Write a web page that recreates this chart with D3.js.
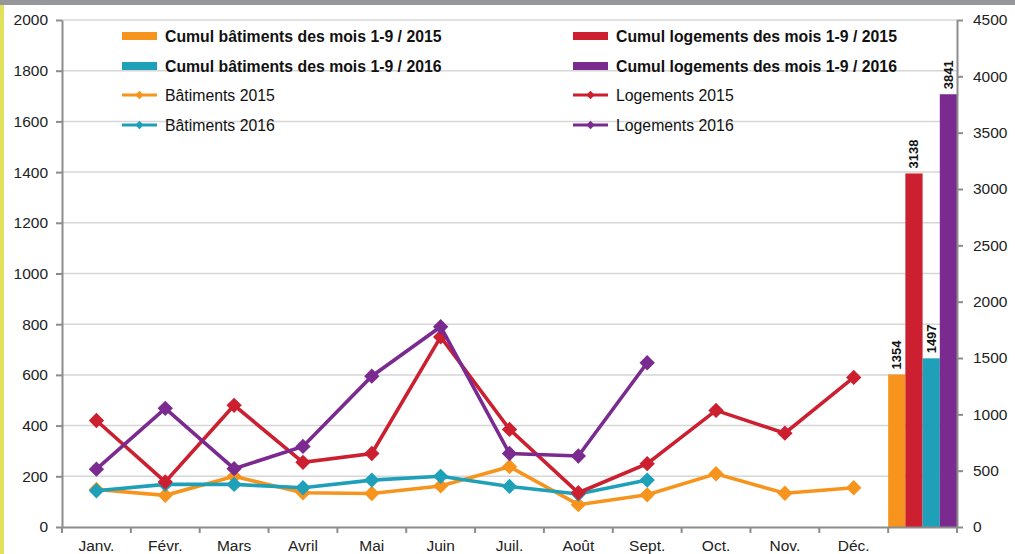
<!DOCTYPE html>
<html>
<head>
    <meta charset="utf-8" />
    <style>
    body { margin: 0; background: #fff; }
    svg { display: block; font-family: "Liberation Sans", Arial, sans-serif; }
    .grid line { stroke: #d6d6d6; stroke-width: 1.5px; }
    .axis path, .axis line { stroke: #8c8c8c; stroke-width: 2px; }
    .axis text { font-size: 15.5px; fill: #222; }
    </style>
</head>
<body>
<svg id="chart" width="1015" height="554"></svg>
<script src="https://d3js.org/d3.v7.min.js"></script>
<script>
    // months + one empty slot for the cumul bars
    var months = ["Janv.", "Févr.", "Mars", "Avril", "Mai", "Juin", "Juil.", "Août", "Sept.", "Oct.", "Nov.", "Déc.", ""];

    var batiments2015 = [148, 125, 200, 135, 132, 162, 238, 88, 127, 210, 133, 155];
    var batiments2016 = [143, 168, 168, 155, 185, 200, 160, 130, 185];
    var logements2015 = [420, 178, 480, 255, 290, 750, 385, 135, 250, 460, 370, 590];
    var logements2016 = [228, 468, 230, 318, 595, 790, 290, 280, 648];

    var cumulLabels = ["Cumul bâtiments des mois 1-9 / 2015", "Cumul logements des mois 1-9 / 2015",
                       "Cumul bâtiments des mois 1-9 / 2016", "Cumul logements des mois 1-9 / 2016"];
    var cumulValues = [1354, 3138, 1497, 3841];
    var cumulColors = ["#f7941d", "#cc1f30", "#1ea0b9", "#7b2a8f"];

    var leftTicks = [0, 200, 400, 600, 800, 1000, 1200, 1400, 1600, 1800, 2000];
    var rightTicks = [0, 500, 1000, 1500, 2000, 2500, 3000, 3500, 4000, 4500];

    var svg = d3.select("#chart");
    var mLeft = 62, mRight = 957, mTop = 20, mBottom = 527;

    // frame decorations
    svg.append("rect").attr("x", 0).attr("y", 0).attr("width", 1015).attr("height", 5).attr("fill", "#96979b");
    svg.append("rect").attr("x", 0).attr("y", 5).attr("width", 4).attr("height", 549).attr("fill", "#e1e15c");

    var x = d3.scaleBand().domain(months).range([mLeft, mRight]).padding(0);
    var y = d3.scaleLinear().domain([0, 2000]).range([mBottom, mTop]);
    var y2 = d3.scaleLinear().domain([0, 4500]).range([mBottom, mTop]);

    // grid
    svg.append("g").attr("class", "grid")
        .selectAll("line").data(leftTicks.slice(1)).enter().append("line")
        .attr("x1", mLeft).attr("x2", mRight)
        .attr("y1", function(d) { return y(d); }).attr("y2", function(d) { return y(d); });

    // cumul bars in the last band
    var xb = d3.scaleBand().domain(d3.range(4)).range([x(""), x("") + x.bandwidth()]).padding(0);
    var order = [0, 1, 2, 3];
    svg.append("g").selectAll("rect").data(order).enter().append("rect")
        .attr("x", function(i) { return xb(i); })
        .attr("width", xb.bandwidth())
        .attr("y", function(i) { return y2(cumulValues[i]); })
        .attr("height", function(i) { return mBottom - y2(cumulValues[i]); })
        .attr("fill", function(i) { return cumulColors[i]; });

    svg.append("g").selectAll("text").data(order).enter().append("text")
        .attr("transform", function(i) {
            return "translate(" + (xb(i) + xb.bandwidth() / 2 + 4.5) + "," + (y2(cumulValues[i]) - 5) + ") rotate(-90)";
        })
        .attr("font-size", "13px").attr("font-weight", "bold").attr("fill", "#111")
        .text(function(i) { return cumulValues[i]; });

    // axes
    var xAxis = svg.append("g").attr("class", "axis")
        .attr("transform", "translate(0," + mBottom + ")")
        .call(d3.axisBottom(x).tickSize(0).tickPadding(11));
    xAxis.selectAll("text").attr("dy", "0.85em");
    xAxis.selectAll(".bound").data(d3.range(months.length + 1)).enter().append("line")
        .attr("class", "bound")
        .attr("x1", function(i) { return mLeft + i * x.bandwidth(); })
        .attr("x2", function(i) { return mLeft + i * x.bandwidth(); })
        .attr("y1", 0).attr("y2", 6);

    svg.append("g").attr("class", "axis")
        .attr("transform", "translate(" + mLeft + ",0)")
        .call(d3.axisLeft(y).tickValues(leftTicks).tickFormat(d3.format("d"))
            .tickSize(6).tickSizeOuter(0).tickPadding(8));

    svg.append("g").attr("class", "axis")
        .attr("transform", "translate(" + mRight + ",0)")
        .call(d3.axisRight(y2).tickValues(rightTicks).tickFormat(d3.format("d"))
            .tickSize(6).tickSizeOuter(0).tickPadding(10));

    // lines
    var series = [
        { name: "Bâtiments 2015", values: batiments2015, color: "#f7941d" },
        { name: "Bâtiments 2016", values: batiments2016, color: "#1ea0b9" },
        { name: "Logements 2015", values: logements2015, color: "#cc1f30" },
        { name: "Logements 2016", values: logements2016, color: "#7b2a8f" }
    ];
    var line = d3.line()
        .x(function(d, i) { return x(months[i]) + x.bandwidth() / 2; })
        .y(function(d) { return y(d); });
    var diamond = d3.symbol().type(d3.symbolDiamond2).size(150);

    series.forEach(function(s) {
        var g = svg.append("g");
        g.append("path").attr("d", line(s.values))
            .attr("fill", "none").attr("stroke", s.color).attr("stroke-width", 3.6);
        g.selectAll("path.pt").data(s.values).enter().append("path")
            .attr("class", "pt")
            .attr("d", diamond)
            .attr("transform", function(d, i) {
                return "translate(" + (x(months[i]) + x.bandwidth() / 2) + "," + y(d) + ")";
            })
            .attr("fill", s.color);
    });

    // legend
    var legendRows = [
        { label: cumulLabels[0], color: cumulColors[0], kind: "bar", col: 0, row: 0 },
        { label: cumulLabels[2], color: cumulColors[2], kind: "bar", col: 0, row: 1 },
        { label: series[0].name, color: series[0].color, kind: "line", col: 0, row: 2 },
        { label: series[1].name, color: series[1].color, kind: "line", col: 0, row: 3 },
        { label: cumulLabels[1], color: cumulColors[1], kind: "bar", col: 1, row: 0 },
        { label: cumulLabels[3], color: cumulColors[3], kind: "bar", col: 1, row: 1 },
        { label: series[2].name, color: series[2].color, kind: "line", col: 1, row: 2 },
        { label: series[3].name, color: series[3].color, kind: "line", col: 1, row: 3 }
    ];
    var colX = [122, 573], rowY = [36, 66, 95, 125];
    var lg = svg.append("g").selectAll("g").data(legendRows).enter().append("g")
        .attr("transform", function(d) { return "translate(" + colX[d.col] + "," + rowY[d.row] + ")"; });
    lg.filter(function(d) { return d.kind === "bar"; }).append("rect")
        .attr("x", 0).attr("y", -4).attr("width", 35).attr("height", 8)
        .attr("fill", function(d) { return d.color; });
    lg.filter(function(d) { return d.kind === "line"; }).append("line")
        .attr("x1", 0).attr("x2", 35).attr("y1", 0).attr("y2", 0)
        .attr("stroke", function(d) { return d.color; }).attr("stroke-width", 3);
    lg.filter(function(d) { return d.kind === "line"; }).append("path")
        .attr("d", d3.symbol().type(d3.symbolDiamond2).size(45))
        .attr("transform", "translate(17.5,0)")
        .attr("fill", function(d) { return d.color; });
    lg.append("text")
        .attr("x", 43).attr("y", 0).attr("dy", "0.35em")
        .attr("font-size", "15.8px")
        .attr("font-weight", function(d) { return d.kind === "bar" ? "bold" : "normal"; })
        .attr("fill", "#111")
        .text(function(d) { return d.label; });
</script>
</body>
</html>
